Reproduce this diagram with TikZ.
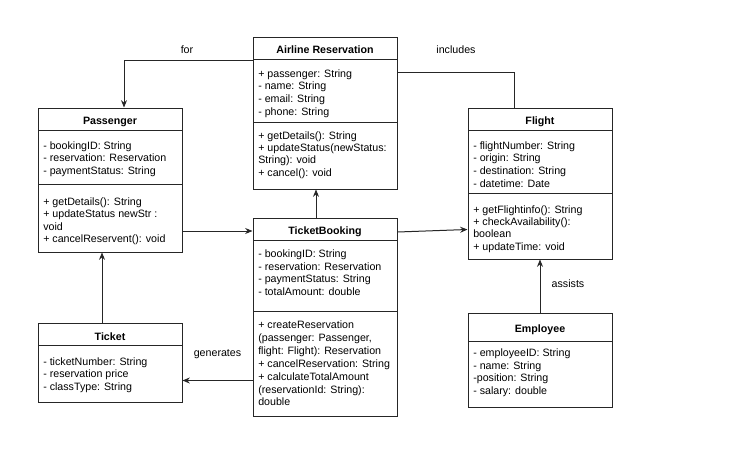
\documentclass[tikz,border=0pt]{standalone}
\usepackage{fontspec}
\setmainfont{Liberation Sans}
\usetikzlibrary{arrows.meta,fit}
\newcommand\clslines[5]{%
  \foreach \t [count=\i] in {#5} {\node[txt] (#1-\i) at (#2,{#3+#4*(\i-1)}) {\t};}}
\begin{document}
\begin{tikzpicture}[x=0.75pt,y=-0.75pt,
  box/.style={draw=black!85, line width=0.75pt, inner sep=0pt},
  ttl/.style={font=\bfseries\fontsize{8}{9.6}\selectfont, anchor=base, inner sep=0pt},
  txt/.style={font=\fontsize{8}{9.6}\selectfont, anchor=base west, inner sep=0pt},
  lbl/.style={font=\fontsize{8}{9.6}\selectfont, inner sep=0pt},
  sep/.style={draw=black!85, line width=0.75pt},
  con/.style={draw=black!85, line width=0.75pt},
  arr/.style={con, -{Stealth[length=5.5pt,width=4.5pt]}}]
\useasboundingbox (0,0) rectangle (753,453);
\fill[white] (0,0) rectangle (753,453);

% row / column helper coordinates
\coordinate (r61) at (0,61);
\coordinate (r73) at (0,73);
\coordinate (r231) at (0,231);
\coordinate (r232) at (0,232);
\coordinate (r229) at (0,229.5);
\coordinate (r381) at (0,380.5);
\coordinate (c316) at (316,0);
\coordinate (c102) at (102,0);
\coordinate (c124) at (124,0);
\coordinate (c514) at (514,0);

% Airline Reservation
\node[box, fit={(253,38) (397,189)}] (air) {};
\draw[sep] (253,60) -- (397,60);
\draw[sep] (253,122) -- (397,122);
\node[ttl] (airT) at (325,54) {Airline Reservation};
\clslines{aira}{258}{77.3}{12.6}{{+ passenger: String},{- name: String},{- email: String},{- phone: String}}
\clslines{airm}{258}{139}{12.4}{{+ getDetails(): String},{+ updateStatus(newStatus:},{String): void},{+ cancel(): void}}

% Passenger
\node[box, fit={(38,108) (182,252)}] (pas) {};
\draw[sep] (38,130) -- (182,130);
\draw[sep] (38,184) -- (182,184);
\node[ttl] (pasT) at (110,124) {Passenger};
\clslines{pasa}{43}{149}{12.5}{{- bookingID: String},{- reservation: Reservation},{- paymentStatus: String}}
\clslines{pasm}{43}{205}{12.5}{{+ getDetails(): String},{+ updateStatus newStr :},{void},{+ cancelReservent(): void}}

% TicketBooking
\node[box, fit={(253,218) (397,416)}] (tb) {};
\draw[sep] (253,240) -- (397,240);
\draw[sep] (253,311) -- (397,311);
\node[ttl] (tbT) at (325,234) {TicketBooking};
\clslines{tba}{258}{257.5}{12.5}{{- bookingID: String},{- reservation: Reservation},{- paymentStatus: String},{- totalAmount: double}}
\clslines{tbm}{258}{328.5}{12.9}{{+ createReservation},{(passenger: Passenger,},{flight: Flight): Reservation},{+ cancelReservation: String},{+ calculateTotalAmount},{(reservationId: String):},{double}}

% Flight
\node[box, fit={(468,108) (612,259)}] (fl) {};
\draw[sep] (468,130) -- (612,130);
\draw[sep] (468,193) -- (612,193);
\node[ttl] (flT) at (540,124) {Flight};
\clslines{fla}{473}{149}{12.8}{{- flightNumber: String},{- origin: String},{- destination: String},{- datetime: Date}}
\clslines{flm}{473}{213}{12.4}{{+ getFlightinfo(): String},{+ checkAvailability():},{boolean},{+ updateTime: void}}

% Ticket
\node[box, fit={(38,323) (182,402)}] (tk) {};
\draw[sep] (38,345) -- (182,345);
\node[ttl] (tkT) at (110,340) {Ticket};
\clslines{tka}{43}{365.7}{12.2}{{- ticketNumber: String},{- reservation price},{- classType: String}}

% Employee
\node[box, fit={(468,313) (612,407)}] (emp) {};
\draw[sep] (468,341) -- (612,341);
\node[ttl] (empT) at (540,332.3) {Employee};
\clslines{empa}{473}{356.7}{12.5}{{- employeeID: String},{- name: String},{-position: String},{- salary: double}}

% connectors
\draw[arr] (air.west |- r61) -| (pas.north -| c124);
\node[lbl] (forL) at (187,50) {for};
\draw[con] (air.east |- r73) -| (fl.north -| c514);
\node[lbl] (incL) at (456,50) {includes};
\draw[arr] (pas.east |- r231) -- (tb.west |- r231);
\draw[arr] (tb.east |- r232) -- (fl.west |- r229);
\draw[arr] (tb.north -| c316) -- (air.south -| c316);
\draw[arr] (tk.north -| c102) -- (pas.south -| c102);
\draw[arr] (tb.west |- r381) -- (tk.east |- r381);
\node[lbl] (genL) at (217.5,354) {generates};
\draw[arr] (emp.north) -- (fl.south);
\node[lbl] (asL) at (568,284) {assists};
\end{tikzpicture}
\end{document}
